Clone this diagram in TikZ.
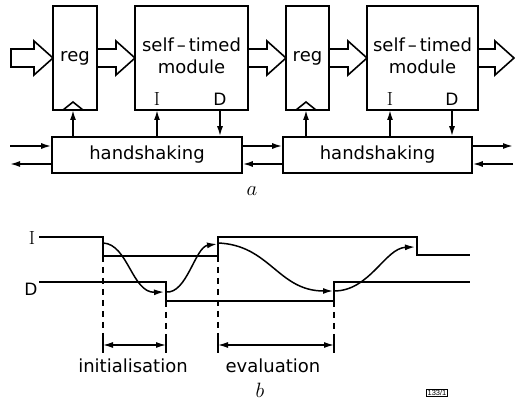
\documentclass[tikz,border=0pt]{standalone}
\usepackage{fontspec}
\newfontfamily\dv{DejaVu Sans}
\newfontfamily\ls{Liberation Sans}
\usetikzlibrary{arrows.meta}
\tikzset{
  every path/.style={line width=1.6pt},
  blk/.style={draw, rectangle, inner sep=0pt, line width=1.6pt},
  lbl/.style={font=\dv\fontsize{18}{22}\selectfont, inner sep=0pt, align=center},
  port/.style={font=\fontsize{19}{22}\selectfont, inner sep=0pt},
  dport/.style={font=\dv\fontsize{17}{20}\selectfont, inner sep=0pt},
  sig/.style={line width=1.6pt},
  tip/.style={-{Latex[length=10pt,width=6pt]}},
  dtip/.style={{Latex[length=10pt,width=6pt]}-{Latex[length=10pt,width=6pt]}},
  dashline/.style={dash pattern=on 6pt off 5pt}
}
\begin{document}
\begin{tikzpicture}[x=1pt,y=-1pt]
\useasboundingbox (0,0) rectangle (515,403);
% ---------- part a ----------
\node[blk, minimum width=44pt, minimum height=104pt] (reg1) at (75,58) {};
\node[blk, minimum width=113pt, minimum height=104pt] (mod1) at (191.5,58) {};
\node[blk, minimum width=43pt, minimum height=104pt] (reg2) at (307.5,58) {};
\node[blk, minimum width=111pt, minimum height=104pt] (mod2) at (422.5,58) {};
\node[lbl] (regt1) at (reg1.center) {reg};
\node[lbl] (regt2) at (reg2.center) {reg};
\node[lbl] (modt1) at (191.5,56) {self\,–\,timed\\module};
\node[lbl] (modt2) at (422.5,56) {self\,–\,timed\\module};
\node[blk, minimum width=190pt, minimum height=36pt] (hs1) at (147,155) {};
\node[blk, minimum width=189pt, minimum height=36pt] (hs2) at (377.5,155) {};
\node[lbl] (hst1) at (hs1.center) {handshaking};
\node[lbl] (hst2) at (hs2.center) {handshaking};
% ports
\node[port] (I1) at (157,99) {I};
\node[dport] (D1) at (220,99) {D};
\node[port] (I2) at (390,99) {I};
\node[dport] (D2) at (452,99) {D};
% clock notches
\draw (63,110) -- (73,102) -- (83,110);
\draw (296,110) -- (306,102) -- (316,110);
\coordinate (ck1) at (73,110);
\coordinate (ck2) at (306,110);
\coordinate (pI1) at (157,110);
\coordinate (pD1) at (220,110);
\coordinate (pI2) at (390,110);
\coordinate (pD2) at (452,110);
\draw[tip] (hs1.north -| ck1) -- (ck1);
\draw[tip] (hs1.north -| pI1) -- (pI1);
\draw[tip] (pD1) -- (hs1.north -| pD1);
\draw[tip] (hs2.north -| ck2) -- (ck2);
\draw[tip] (hs2.north -| pI2) -- (pI2);
\draw[tip] (pD2) -- (hs2.north -| pD2);
% handshake wires
\coordinate (inL) at (10,146);
\coordinate (outL) at (10,164);
\coordinate (outR) at (513,146);
\coordinate (inR) at (513,164);
\draw[tip] (inL) -- (hs1.west |- inL);
\draw[tip] (hs1.west |- outL) -- (outL);
\draw[tip] (hs1.east |- inL) -- (hs2.west |- inL);
\draw[tip] (hs2.west |- outL) -- (hs1.east |- outL);
\draw[tip] (hs2.east |- outR) -- (outR);
\draw[tip] (inR) -- (hs2.east |- inR);
% hollow data arrows
\newcommand\hollowarr[2]{\draw[line width=1.6pt, line join=miter] (#1,49) -- ({#2-19},49) -- ({#2-19},41) -- (#2,58) -- ({#2-19},75) -- ({#2-19},67) -- (#1,67) -- cycle;}
\hollowarr{11}{53}
\hollowarr{97}{135}
\hollowarr{248}{286}
\hollowarr{329}{367}
\hollowarr{478}{514}
\node[font=\fontsize{21}{24}\selectfont, inner sep=0pt] (capa) at (252,191) {$a$};
% ---------- part b ----------
\node[port] (Il) at (32,238) {I};
\node[dport] (Dl) at (31,289) {D};
\draw[sig] (39,237) -- (103,237) -- (103,256) -- (218,256) -- (218,237) -- (417,237) -- (417,255) -- (470,255);
\draw[sig] (39,282) -- (166,282) -- (166,301) -- (334,301) -- (334,282) -- (470,282);
% dashed markers
\draw[dashline] (103,256) -- (103,337);
\draw[dashline] (166,301) -- (166,337);
\draw[dashline] (218,256) -- (218,337);
\draw[dashline] (334,301) -- (334,337);
\draw (103,337) -- (103,353);
\draw (166,337) -- (166,353);
\draw (218,337) -- (218,353);
\draw (334,337) -- (334,353);
\coordinate (t1) at (103,345);
\coordinate (t2) at (166,345);
\coordinate (t3) at (218,345);
\coordinate (t4) at (334,345);
\draw[dtip, line width=1.3pt] (t1) -- (t2);
\draw[dtip, line width=1.3pt] (t3) -- (t4);
\node[lbl] (init) at (133,366) {initialisation};
\node[lbl] (eval) at (273,366) {evaluation};
% causal curves
\draw[tip, line width=1.5pt] (103,243) .. controls (128,244) and (132,293) .. (164,292);
\draw[tip, line width=1.5pt] (166,292) .. controls (187,294) and (195,247) .. (217,244);
\draw[tip, line width=1.5pt] (218,243) .. controls (270,245) and (278,291) .. (333,291);
\draw[tip, line width=1.5pt] (334,291) .. controls (370,291) and (385,248) .. (415,247);
\node[font=\fontsize{21}{24}\selectfont, inner sep=0pt] (capb) at (260,390) {$b$};
\node[draw, line width=0.7pt, inner sep=1pt, font=\ls\fontsize{7.5}{8}\selectfont] (ref) at (437,393) {133/1};
\end{tikzpicture}
\end{document}
